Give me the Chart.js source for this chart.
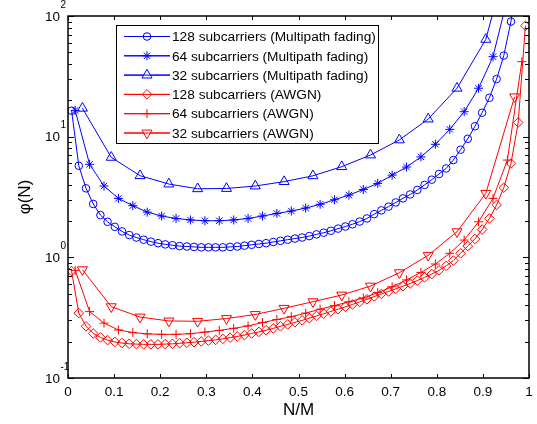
<!DOCTYPE html>
<html>
<head>
<meta charset="utf-8">
<script src="https://cdn.jsdelivr.net/npm/chart.js@4.4.0/dist/chart.umd.min.js"></script>
<style>
  html, body { margin: 0; padding: 0; background: #fff; }
</style>
</head>
<body>
<canvas id="chart" width="537" height="424"></canvas>
<script>
// N/M positions of the markers for each subcarrier count
const xM128 = [0.0078, 0.0234, 0.0391, 0.0547, 0.0703, 0.0859, 0.1016, 0.1172, 0.1328, 0.1484,
    0.1641, 0.1797, 0.1953, 0.2109, 0.2266, 0.2422, 0.2578, 0.2734, 0.2891, 0.3047,
    0.3203, 0.3359, 0.3516, 0.3672, 0.3828, 0.3984, 0.4141, 0.4297, 0.4453, 0.4609,
    0.4766, 0.4922, 0.5078, 0.5234, 0.5391, 0.5547, 0.5703, 0.5859, 0.6016, 0.6172,
    0.6328, 0.6484, 0.6641, 0.6797, 0.6953, 0.7109, 0.7266, 0.7422, 0.7578, 0.7734,
    0.7891, 0.8047, 0.8203, 0.8359, 0.8516, 0.8672, 0.8828, 0.8984, 0.9141, 0.9297,
    0.9453, 0.9609, 0.9766, 0.9922];
const xM64 = [0.0156, 0.0469, 0.0781, 0.1094, 0.1406, 0.1719, 0.2031, 0.2344, 0.2656, 0.2969,
    0.3281, 0.3594, 0.3906, 0.4219, 0.4531, 0.4844, 0.5156, 0.5469, 0.5781, 0.6094,
    0.6406, 0.6719, 0.7031, 0.7344, 0.7656, 0.7969, 0.8281, 0.8594, 0.8906, 0.9219,
    0.9531, 0.9844];
const xM32 = [0.0313, 0.0938, 0.1563, 0.2188, 0.2813, 0.3438, 0.4063, 0.4688, 0.5313, 0.5938,
    0.6563, 0.7188, 0.7813, 0.8438, 0.9063, 0.9688];

// phi(N) values
const fading128 = [16.4, 5.74, 3.73, 2.77, 2.24, 1.97, 1.79, 1.64, 1.53, 1.46,
    1.40, 1.35, 1.31, 1.28, 1.26, 1.24, 1.23, 1.22, 1.21, 1.21,
    1.21, 1.21, 1.22, 1.23, 1.25, 1.27, 1.29, 1.31, 1.34, 1.37,
    1.40, 1.43, 1.46, 1.50, 1.55, 1.60, 1.66, 1.73, 1.80, 1.88,
    1.98, 2.10, 2.28, 2.45, 2.63, 2.85, 3.08, 3.32, 3.62, 3.98,
    4.4, 4.9, 5.45, 6.4, 7.8, 9.6, 12.2, 15.8, 21, 30,
    47, 90, 250, 2000];
const fading64 = [16.5, 5.9, 3.9, 3.08, 2.68, 2.37, 2.20, 2.10, 2.04, 2.01,
    2.01, 2.04, 2.10, 2.20, 2.31, 2.42, 2.56, 2.75, 3.0, 3.28,
    3.65, 4.1, 4.8, 5.6, 6.8, 8.65, 11.5, 16.1, 25.2, 46,
    140, 800];
const fading32 = [17.2, 6.74, 4.75, 4.05, 3.7, 3.72, 3.9, 4.24, 4.74, 5.64,
    7.05, 9.4, 14.0, 25.2, 64, 500];
const awgn128 = [0.77, 0.345, 0.268, 0.234, 0.217, 0.206, 0.199, 0.195, 0.192, 0.191,
    0.190, 0.190, 0.190, 0.191, 0.192, 0.194, 0.196, 0.198, 0.201, 0.204,
    0.207, 0.211, 0.216, 0.221, 0.227, 0.234, 0.241, 0.249, 0.258, 0.268,
    0.278, 0.289, 0.300, 0.313, 0.327, 0.341, 0.356, 0.372, 0.389, 0.407,
    0.427, 0.449, 0.473, 0.497, 0.522, 0.548, 0.576, 0.607, 0.642, 0.682,
    0.727, 0.78, 0.85, 0.94, 1.08, 1.24, 1.42, 1.7, 2.1, 2.72,
    3.78, 6.0, 13.1, 83];
const awgn64 = [0.78, 0.355, 0.285, 0.25, 0.238, 0.232, 0.23, 0.23, 0.233, 0.24,
    0.248, 0.258, 0.27, 0.288, 0.305, 0.322, 0.345, 0.372, 0.398, 0.428,
    0.46, 0.51, 0.57, 0.65, 0.75, 0.88, 1.08, 1.39, 1.97, 3.08,
    6.4, 41.8];
const awgn32 = [0.79, 0.39, 0.32, 0.297, 0.295, 0.311, 0.336, 0.378, 0.429, 0.487,
    0.578, 0.746, 1.04, 1.63, 3.39, 21.4];

const seriesNames = [
    '128 subcarriers (Multipath fading)',
    '64 subcarriers (Multipath fading)',
    '32 subcarriers (Multipath fading)',
    '128 subcarriers (AWGN)',
    '64 subcarriers (AWGN)',
    '32 subcarriers (AWGN)'
];

const xTicks = [0, 0.1, 0.2, 0.3, 0.4, 0.5, 0.6, 0.7, 0.8, 0.9, 1];
const xTickLabels = ['0', '0.1', '0.2', '0.3', '0.4', '0.5', '0.6', '0.7', '0.8', '0.9', '1'];
const yDecades = [0.1, 1, 10, 100];
const yExponents = ['-1', '0', '1', '2'];

const BLUE = 'rgb(0, 0, 255)';
const RED = 'rgb(255, 0, 0)';
const FONT = "'Liberation Sans', Arial, Helvetica, sans-serif";

const markers = [
    { color: BLUE, pointStyle: 'circle', radius: 3.8, rotation: 0 },
    { color: BLUE, pointStyle: 'star', radius: 4.5, rotation: 0 },
    { color: BLUE, pointStyle: 'triangle', radius: 5.8, rotation: 0 },
    { color: RED, pointStyle: 'rectRot', radius: 4.8, rotation: 0 },
    { color: RED, pointStyle: 'cross', radius: 4.5, rotation: 0 },
    { color: RED, pointStyle: 'triangle', radius: 5.8, rotation: 180 }
];

function toPoints(xs, ys) {
    return xs.map(function (x, i) {
        return { x: x, y: ys[i] };
    });
}

const seriesData = [
    toPoints(xM128, fading128),
    toPoints(xM64, fading64),
    toPoints(xM32, fading32),
    toPoints(xM128, awgn128),
    toPoints(xM64, awgn64),
    toPoints(xM32, awgn32)
];

const datasets = seriesData.map(function (pts, i) {
    const m = markers[i];
    return {
        label: seriesNames[i],
        data: pts,
        borderColor: m.color,
        borderWidth: 1,
        pointStyle: m.pointStyle,
        pointRadius: m.radius,
        pointRotation: m.rotation,
        pointBorderColor: m.color,
        pointBackgroundColor: 'rgba(0,0,0,0)',
        pointBorderWidth: 1,
        tension: 0,
        fill: false
    };
});

// axes box, inward ticks, tick labels, titles and legend, MATLAB style
const axesDecor = {
    id: 'axesDecor',
    afterDatasetsDraw(chart) {
        const ctx = chart.ctx;
        const area = chart.chartArea;
        const xs = chart.scales.x;
        const ys = chart.scales.y;
        ctx.save();
        ctx.strokeStyle = '#000';
        ctx.fillStyle = '#000';

        // ticks
        ctx.lineWidth = 1;
        ctx.beginPath();
        xTicks.forEach(function (v) {
            const px = Math.round(xs.getPixelForValue(v)) + 0.5;
            ctx.moveTo(px, area.bottom);
            ctx.lineTo(px, area.bottom - 4);
            ctx.moveTo(px, area.top);
            ctx.lineTo(px, area.top + 4);
        });
        yDecades.forEach(function (d, k) {
            const py = Math.round(ys.getPixelForValue(d)) + 0.5;
            ctx.moveTo(area.left, py);
            ctx.lineTo(area.left + 6, py);
            ctx.moveTo(area.right, py);
            ctx.lineTo(area.right - 6, py);
            if (k < yDecades.length - 1) {
                for (let m = 2; m <= 9; m++) {
                    const pm = Math.round(ys.getPixelForValue(d * m)) + 0.5;
                    ctx.moveTo(area.left, pm);
                    ctx.lineTo(area.left + 4, pm);
                    ctx.moveTo(area.right, pm);
                    ctx.lineTo(area.right - 4, pm);
                }
            }
        });
        ctx.stroke();

        // box
        ctx.lineWidth = 1.5;
        ctx.strokeRect(area.left, area.top, area.right - area.left, area.bottom - area.top);

        // x tick labels
        ctx.font = '13.5px ' + FONT;
        ctx.textAlign = 'center';
        ctx.textBaseline = 'middle';
        xTicks.forEach(function (v, i) {
            ctx.fillText(xTickLabels[i], xs.getPixelForValue(v), area.bottom + 14);
        });

        // y tick labels 10^n
        yDecades.forEach(function (d, k) {
            const py = ys.getPixelForValue(d);
            ctx.font = '13.5px ' + FONT;
            ctx.textAlign = 'right';
            ctx.textBaseline = 'middle';
            ctx.fillText('10', area.left - 8, py + 1);
            ctx.font = '10px ' + FONT;
            ctx.textAlign = 'left';
            ctx.fillText(yExponents[k], area.left - 7.5, py - 11);
        });

        // axis titles
        ctx.font = '17px ' + FONT;
        ctx.textAlign = 'center';
        ctx.textBaseline = 'middle';
        ctx.fillText('N/M', (area.left + area.right) / 2, area.bottom + 32);
        ctx.save();
        ctx.translate(25, (area.top + area.bottom) / 2);
        ctx.rotate(-Math.PI / 2);
        ctx.fillText('\u03C6(N)', 0, 0);
        ctx.restore();

        // legend
        const lx = 116, ly = 25, lw = 262, lh = 118;
        ctx.fillStyle = '#fff';
        ctx.fillRect(lx, ly, lw, lh);
        ctx.strokeStyle = '#000';
        ctx.lineWidth = 1;
        ctx.strokeRect(lx + 0.5, ly + 0.5, lw, lh);
        ctx.font = '13.7px ' + FONT;
        ctx.textAlign = 'left';
        ctx.textBaseline = 'middle';
        seriesNames.forEach(function (name, i) {
            const m = markers[i];
            const ry = ly + 11.5 + i * 19.3;
            ctx.strokeStyle = m.color;
            ctx.lineWidth = 1;
            ctx.beginPath();
            ctx.moveTo(lx + 8, ry);
            ctx.lineTo(lx + 54, ry);
            ctx.stroke();
            ctx.fillStyle = '#fff';
            Chart.helpers.drawPoint(ctx, {
                pointStyle: m.pointStyle,
                radius: m.radius,
                rotation: m.rotation,
                borderWidth: 1
            }, lx + 31, ry);
            // redraw the sample line through the open marker
            ctx.beginPath();
            ctx.moveTo(lx + 8, ry);
            ctx.lineTo(lx + 54, ry);
            ctx.stroke();
            ctx.fillStyle = '#000';
            ctx.fillText(name, lx + 56, ry + 1);
        });
        ctx.restore();
    }
};

new Chart(document.getElementById('chart'), {
    type: 'line',
    data: { datasets: datasets },
    options: {
        responsive: false,
        animation: false,
        layout: { padding: { left: 68, right: 8, top: 16, bottom: 46 } },
        plugins: {
            legend: { display: false },
            tooltip: { enabled: false }
        },
        scales: {
            x: { type: 'linear', min: 0, max: 1, display: false },
            y: { type: 'logarithmic', min: 0.1, max: 100, display: false }
        }
    },
    plugins: [axesDecor]
});
</script>
</body>
</html>
